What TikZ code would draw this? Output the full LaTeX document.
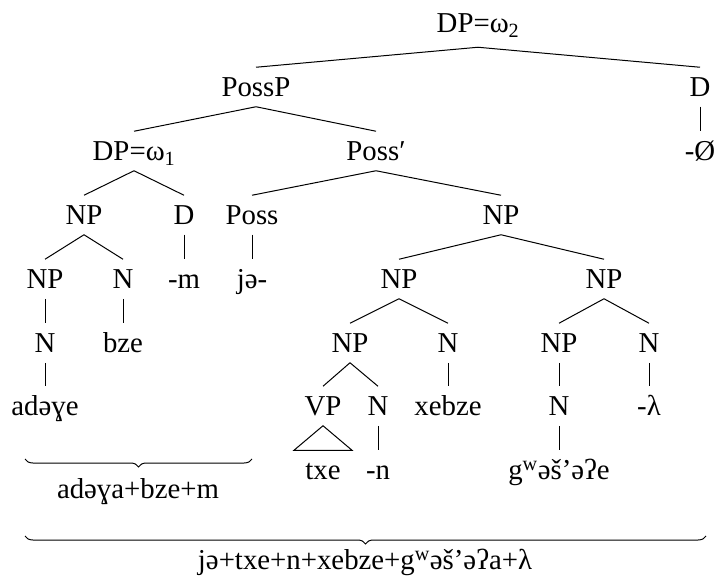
\documentclass[tikz,border=0pt]{standalone}
\usepackage{fontspec}
\setmainfont{Liberation Serif}
\usetikzlibrary{decorations.pathreplacing}
\begin{document}
\begin{tikzpicture}[x=1pt,y=-1pt,
  lab/.style={font=\fontsize{28.8}{30}\selectfont, inner xsep=0pt, inner ysep=2pt, text height=27.1pt, text depth=8pt},
  edge/.style={line width=1pt},
  brc/.style={decorate, decoration={brace, amplitude=8pt}, line width=1pt}]
\useasboundingbox (0,0) rectangle (717,577);
% row 0
\node[lab] (dp2) at (478,23) {DP=ω\textsubscript{2}};
% row 1
\node[lab] (possp) at (256,87) {PossP};
\node[lab] (d0) at (700,87) {D};
% row 2
\node[lab] (dp1) at (134,151) {DP=ω\textsubscript{1}};
\node[lab] (possbar) at (376,151) {Poss′};
\node[lab] (zero) at (700,151) {-Ø};
% row 3
\node[lab] (npa) at (84,215) {NP};
\node[lab] (da) at (184,215) {D};
\node[lab] (poss) at (252,215) {Poss};
\node[lab] (npb) at (501,215) {NP};
% row 4
\node[lab] (npc) at (45,279) {NP};
\node[lab] (na) at (123,279) {N};
\node[lab] (m) at (184,279) {-m};
\node[lab] (je) at (252,279) {jə-};
\node[lab] (npd) at (399,279) {NP};
\node[lab] (npe) at (604,279) {NP};
% row 5
\node[lab] (nb) at (45,343) {N};
\node[lab] (bze) at (123,343) {bze};
\node[lab] (npf) at (350,343) {NP};
\node[lab] (nc) at (448,343) {N};
\node[lab] (npg) at (559,343) {NP};
\node[lab] (nd) at (649,343) {N};
% row 6
\node[lab] (adeye) at (45,406) {adəɣe};
\node[lab] (vp) at (323,406) {VP};
\node[lab] (ne) at (378,406) {N};
\node[lab] (xebze) at (448,406) {xebze};
\node[lab] (nf) at (559,406) {N};
\node[lab] (lam) at (649,406) {-λ};
% row 7
\node[lab] (txe) at (323,470) {txe};
\node[lab] (n) at (378,470) {-n};
\node[lab] (gw) at (559,470) {g\textsuperscript{w}əš’əʔe};
% edges
\coordinate (dp2b) at ([yshift=-4.5pt]dp2.south);
\draw[edge] (dp2b) -- (possp.north);
\draw[edge] (dp2b) -- (d0.north);
\draw[edge] (d0.south) -- (zero.north);
\draw[edge] (possp.south) -- (dp1.north);
\draw[edge] (possp.south) -- (possbar.north);
\draw[edge] (dp1.south) -- (npa.north);
\draw[edge] (dp1.south) -- (da.north);
\draw[edge] (possbar.south) -- (poss.north);
\draw[edge] (possbar.south) -- (npb.north);
\draw[edge] (npa.south) -- (npc.north);
\draw[edge] (npa.south) -- (na.north);
\draw[edge] (da.south) -- (m.north);
\draw[edge] (poss.south) -- (je.north);
\draw[edge] (npb.south) -- (npd.north);
\draw[edge] (npb.south) -- (npe.north);
\draw[edge] (npc.south) -- (nb.north);
\draw[edge] (na.south) -- (bze.north);
\draw[edge] (npd.south) -- (npf.north);
\draw[edge] (npd.south) -- (nc.north);
\draw[edge] (npe.south) -- (npg.north);
\draw[edge] (npe.south) -- (nd.north);
\draw[edge] (nb.south) -- (adeye.north);
\draw[edge] (npf.south) -- (vp.north);
\draw[edge] (npf.south) -- (ne.north);
\draw[edge] (nc.south) -- (xebze.north);
\draw[edge] (npg.south) -- (nf.north);
\draw[edge] (nd.south) -- (lam.north);
\draw[edge] (ne.south) -- (n.north);
\draw[edge] (nf.south) -- (gw.north);
\draw[edge] (vp.south) -- ([xshift=-29pt]txe.north) -- ([xshift=29pt]txe.north) -- cycle;
% braces
\coordinate (b1r) at (252,459);
\coordinate (b1l) at (25,459);
\draw[brc] (b1r) -- (b1l);
\node[lab] (sum1) at (138,488.5) {adəɣa+bze+m};
\coordinate (b2r) at (706,536);
\coordinate (b2l) at (25,536);
\draw[brc] (b2r) -- (b2l);
\node[lab, text depth=5pt, inner ysep=0pt, anchor=base] (sum2) at (365,569.5) {jə+txe+n+xebze+g\textsuperscript{w}əš’əʔa+λ};
\end{tikzpicture}
\end{document}
